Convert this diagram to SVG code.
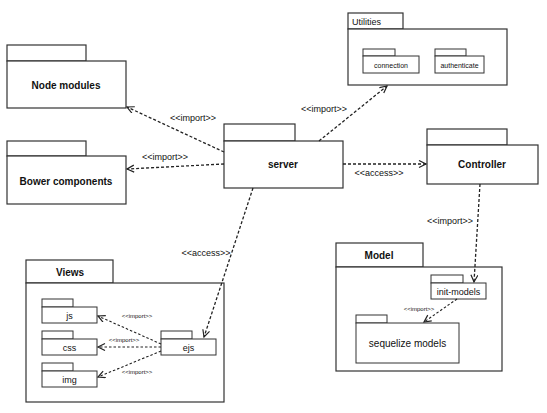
<svg xmlns="http://www.w3.org/2000/svg" width="547" height="413" viewBox="0 0 547 413">
<defs>
<style>
.b{fill:#fff;stroke:#333;stroke-width:1.2}
.s{fill:#fff;stroke:#333;stroke-width:1}
.t{font-family:"Liberation Sans",Arial,sans-serif;fill:#111}
.bold{font-size:10px;font-weight:bold;text-anchor:middle}
.reg{font-size:10px;text-anchor:middle}
.lbl{font-size:9px;text-anchor:middle}
.sm{font-size:7px;text-anchor:middle}
.xs{font-size:6px;text-anchor:middle}
.c{fill:none;stroke:#222;stroke-width:1.3;stroke-dasharray:3,2}
.cs{fill:none;stroke:#222;stroke-width:1.1;stroke-dasharray:2.5,2}
</style>
<marker id="ah" markerWidth="10" markerHeight="10" refX="8" refY="4" orient="auto" markerUnits="userSpaceOnUse">
<path d="M1,0.5 L8,4 L1,7.5" fill="none" stroke="#222" stroke-width="1.2"/>
</marker>
</defs>
<rect width="547" height="413" fill="#fff"/>

<g id="node-modules">
<rect class="b" x="7" y="45" width="79" height="16"/>
<rect class="b" x="7" y="61" width="119" height="47"/>
<text class="t bold" x="66" y="89">Node modules</text>
</g>

<g id="bower-components">
<rect class="b" x="7" y="141" width="79" height="15"/>
<rect class="b" x="7" y="156" width="119" height="48"/>
<text class="t bold" x="66" y="185">Bower components</text>
</g>

<g id="server">
<rect class="b" x="224" y="124" width="71" height="17"/>
<rect class="b" x="224" y="141" width="119" height="47"/>
<text class="t bold" x="283" y="168">server</text>
</g>

<g id="utilities">
<rect class="b" x="348" y="13" width="55" height="16"/>
<rect class="b" x="348" y="29" width="159" height="56"/>
<text class="t" x="352" y="25" font-size="9">Utilities</text>
<g id="connection">
<rect class="s" x="363" y="49" width="32" height="7"/>
<rect class="s" x="363" y="56" width="56" height="17"/>
<text class="t sm" x="391" y="68">connection</text>
</g>
<g id="authenticate">
<rect class="s" x="435" y="49" width="31" height="7"/>
<rect class="s" x="435" y="56" width="49" height="17"/>
<text class="t sm" x="459.5" y="68">authenticate</text>
</g>
</g>

<g id="controller">
<rect class="b" x="427" y="129" width="80" height="16"/>
<rect class="b" x="427" y="145" width="111" height="39"/>
<text class="t bold" x="482" y="168">Controller</text>
</g>

<g id="model">
<rect class="b" x="336" y="243" width="87" height="24"/>
<rect class="b" x="336" y="267" width="166" height="104"/>
<text class="t bold" x="379" y="259">Model</text>
<g id="init-models">
<rect class="s" x="431" y="275" width="32" height="8"/>
<rect class="s" x="431" y="283" width="55" height="16"/>
<text class="t" x="458.5" y="294.5" font-size="9" text-anchor="middle">init-models</text>
</g>
<g id="sequelize-models">
<rect class="s" x="356" y="315" width="31" height="8"/>
<rect class="s" x="356" y="323" width="103" height="40"/>
<text class="t reg" x="407.5" y="347">sequelize models</text>
</g>
</g>

<g id="views">
<rect class="b" x="26" y="260" width="87" height="23"/>
<rect class="b" x="26" y="283" width="198" height="119"/>
<text class="t bold" x="70" y="276">Views</text>
<g id="js">
<rect class="s" x="42" y="299" width="31" height="8"/>
<rect class="s" x="42" y="307" width="55" height="16"/>
<text class="t" x="69.5" y="319" font-size="9" text-anchor="middle">js</text>
</g>
<g id="css">
<rect class="s" x="42" y="331" width="31" height="8"/>
<rect class="s" x="42" y="339" width="55" height="16"/>
<text class="t" x="69.5" y="351" font-size="9" text-anchor="middle">css</text>
</g>
<g id="img">
<rect class="s" x="42" y="363" width="31" height="8"/>
<rect class="s" x="42" y="371" width="55" height="16"/>
<text class="t" x="69.5" y="383" font-size="9" text-anchor="middle">img</text>
</g>
<g id="ejs">
<rect class="s" x="161" y="331" width="31" height="8"/>
<rect class="s" x="161" y="339" width="55" height="16"/>
<text class="t" x="188.5" y="351" font-size="9" text-anchor="middle">ejs</text>
</g>
</g>

<g id="connectors">
<line class="c" x1="224" y1="152" x2="127" y2="107" marker-end="url(#ah)"/>
<text class="t lbl" x="193" y="121">&lt;&lt;import&gt;&gt;</text>
<line class="c" x1="224" y1="164" x2="127" y2="169" marker-end="url(#ah)"/>
<text class="t lbl" x="165" y="160">&lt;&lt;import&gt;&gt;</text>
<line class="c" x1="319" y1="141" x2="387" y2="86" marker-end="url(#ah)"/>
<text class="t lbl" x="324" y="112">&lt;&lt;import&gt;&gt;</text>
<line class="c" x1="343" y1="164" x2="426" y2="164" marker-end="url(#ah)"/>
<text class="t lbl" x="379" y="176">&lt;&lt;access&gt;&gt;</text>
<line class="c" x1="480" y1="184" x2="474" y2="282" marker-end="url(#ah)"/>
<text class="t lbl" x="450" y="224">&lt;&lt;import&gt;&gt;</text>
<line class="c" x1="253" y1="188" x2="204" y2="337" marker-end="url(#ah)"/>
<text class="t lbl" x="206" y="256">&lt;&lt;access&gt;&gt;</text>
<line class="cs" x1="457" y1="299" x2="424" y2="322" marker-end="url(#ah)"/>
<text class="t xs" x="419" y="311">&lt;&lt;import&gt;&gt;</text>
<line class="cs" x1="161" y1="344" x2="98" y2="316" marker-end="url(#ah)"/>
<text class="t xs" x="137" y="318">&lt;&lt;import&gt;&gt;</text>
<line class="cs" x1="161" y1="347" x2="98" y2="347" marker-end="url(#ah)"/>
<text class="t xs" x="124" y="342">&lt;&lt;import&gt;&gt;</text>
<line class="cs" x1="161" y1="351" x2="98" y2="377" marker-end="url(#ah)"/>
<text class="t xs" x="137" y="374">&lt;&lt;import&gt;&gt;</text>
</g>
</svg>
